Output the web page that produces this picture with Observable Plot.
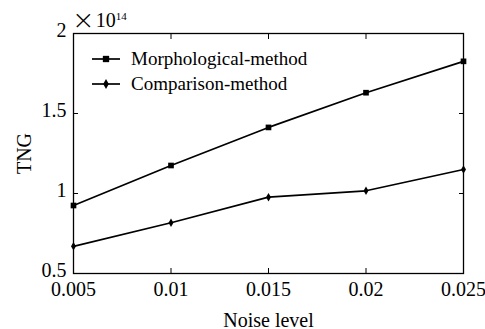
<!DOCTYPE html>
<html><head><meta charset="utf-8">
<script src="https://cdn.jsdelivr.net/npm/d3@7"></script>
<script src="https://cdn.jsdelivr.net/npm/@observablehq/plot@0.6"></script>
<style>
body{margin:0;background:#fff;}
#wrap{position:relative;width:485px;height:329px;font-family:"Liberation Serif",serif;color:#000;}
#exp{position:absolute;left:72px;top:4px;font-size:20px;line-height:1;white-space:nowrap;}
#exp .times{font-family:"DejaVu Sans",sans-serif;font-size:27px;font-weight:200;position:relative;top:2px;margin-right:1px;}
#exp sup{font-size:11px;vertical-align:0;position:relative;top:-7px;}
#legend{position:absolute;left:90px;top:46px;font-size:19px;line-height:25px;}
#legend div{display:flex;align-items:center;height:25px;}
#legend svg{margin-right:9px;}
</style></head>
<body><div id="wrap"><div id="exp"><span class="times">×</span>10<sup>14</sup></div><div id="legend"></div></div>
<script>
const noise = [0.005, 0.01, 0.015, 0.02, 0.025];
const morph = [0.925, 1.175, 1.413, 1.63, 1.826];
const comp = [0.67, 0.817, 0.977, 1.017, 1.15];
const xTicks = [0.005, 0.01, 0.015, 0.02, 0.025];
const yTicks = [0.5, 1, 1.5, 2];
const seriesNames = ["Morphological-method", "Comparison-method"];
const symbols = ["square", "diamond"];
const radii = [3.2, 2.6];

const data = [];
noise.forEach((n,i)=>{
  data.push({x:n, y:morph[i], s:seriesNames[0]});
  data.push({x:n, y:comp[i], s:seriesNames[1]});
});

const chart = Plot.plot({
  width: 485, height: 329,
  marginLeft: 73, marginRight: 22, marginTop: 33, marginBottom: 56,
  style: {fontFamily: "Liberation Serif, serif", fontSize: "20px", color: "#000", background: "#fff", overflow: "visible"},
  x: {domain: [0.005, 0.025]},
  y: {domain: [0.5, 2]},
  marks: [
    Plot.frame({stroke: "#000", strokeWidth: 1.3}),
    Plot.axisX({anchor: "bottom", ticks: xTicks, tickFormat: d => String(d), tickSize: 0, tickPadding: 8, label: "Noise level", labelAnchor: "center", labelArrow: "none", labelOffset: 53, fill: "#000"}),
    Plot.axisX({anchor: "bottom", ticks: xTicks, text: null, tickSize: 5, dy: -5, label: null}),
    Plot.axisX({anchor: "top", ticks: xTicks, text: null, tickSize: 5, dy: 5, label: null}),
    Plot.axisY({anchor: "left", ticks: yTicks, tickFormat: d => String(d), tickSize: 0, tickPadding: 7, dy: -3, label: null, fill: "#000"}),
    Plot.axisY({anchor: "left", ticks: yTicks, text: null, tickSize: 0, dy: 7, label: "TNG", labelAnchor: "center", labelArrow: "none", labelOffset: 57, fill: "#000"}),
    Plot.axisY({anchor: "left", ticks: yTicks, text: null, tickSize: 5, dx: 5, label: null}),
    Plot.axisY({anchor: "right", ticks: yTicks, text: null, tickSize: 5, dx: -5, label: null}),
    Plot.line(data, {x: "x", y: "y", z: "s", stroke: "#000", strokeWidth: 1.7}),
    Plot.dot(data, {x: "x", y: "y", symbol: d => symbols[seriesNames.indexOf(d.s)], r: d => radii[seriesNames.indexOf(d.s)], fill: "#000", stroke: "none"})
  ],
  symbol: {type: "identity"},
  r: {type: "identity"}
});
document.getElementById("wrap").prepend(chart);
chart.style.position = "absolute"; chart.style.left = "0"; chart.style.top = "0";

const leg = document.getElementById("legend");
seriesNames.forEach((name, i) => {
  const row = document.createElement("div");
  const sw = d3.create("svg").attr("width", 32).attr("height", 12);
  sw.append("line").attr("x1", 2).attr("x2", 30).attr("y1", 6).attr("y2", 6).attr("stroke", "#000").attr("stroke-width", 1.7);
  sw.append("path").attr("transform", "translate(16,6)").attr("d", d3.symbol(i === 0 ? d3.symbolSquare : d3.symbolDiamond, i === 0 ? 40 : 28)()).attr("fill", "#000");
  row.appendChild(sw.node());
  const t = document.createElement("span"); t.textContent = name; row.appendChild(t);
  leg.appendChild(row);
});
</script></body></html>
